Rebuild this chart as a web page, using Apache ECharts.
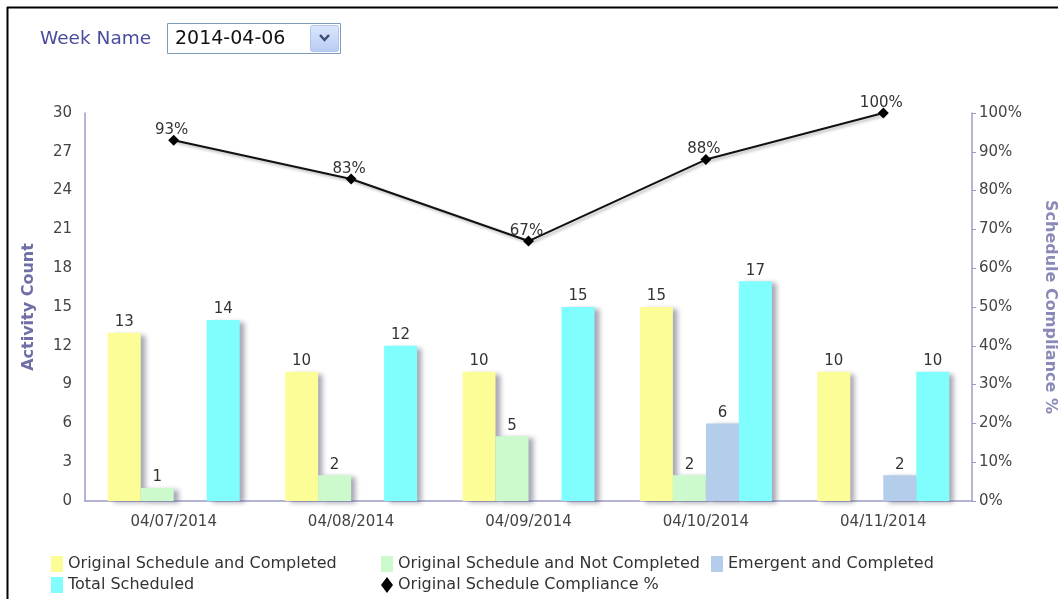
<!DOCTYPE html>
<html>
<head>
<meta charset="utf-8">
<script src="https://cdn.jsdelivr.net/npm/echarts@6/dist/echarts.min.js"></script>
<style>
html,body{margin:0;padding:0;background:#fff;}
#chart{width:1058px;height:599px;}
</style>
</head>
<body>
<div id="chart"></div>
<script>
const categories = ['04/07/2014','04/08/2014','04/09/2014','04/10/2014','04/11/2014'];
const origCompleted = [13, 10, 10, 15, 10];
const origNotCompleted = [1, 2, 5, 2, null];
const emergentCompleted = [null, null, null, 6, 2];
const totalScheduled = [14, 12, 15, 17, 10];
const compliancePct = [93, 83, 67, 88, 100];
const leftTicks = {min: 0, max: 30, interval: 3};
const rightTicks = {min: 0, max: 100, interval: 10};

const FONT = 'DejaVu Sans';
const chart = echarts.init(document.getElementById('chart'), null, {renderer: 'canvas'});

const barShadow = {shadowColor: 'rgba(60,60,90,0.45)', shadowBlur: 5, shadowOffsetX: 5, shadowOffsetY: 2};
const barLabel = {show: true, position: 'top', color: '#333', fontSize: 15, fontFamily: FONT, distance: 3};

function bar(name, data, color) {
  return {
    name: name, type: 'bar', data: data, yAxisIndex: 0,
    barWidth: 33, barGap: '0%',
    itemStyle: Object.assign({color: color}, barShadow),
    label: barLabel,
    emphasis: {disabled: true}
  };
}

const legendText = {color: '#333', fontSize: 16, fontFamily: FONT};
const legendBase = {top: 556, orient: 'vertical', padding: 0, itemGap: 5, itemWidth: 12, itemHeight: 16,
  textStyle: legendText, selectedMode: false, height: 60};

chart.setOption({
  animation: false,
  backgroundColor: '#fff',
  grid: {left: 85, right: 86, top: 113, bottom: 98, outerBoundsMode: 'none', containLabel: false},
  legend: [
    Object.assign({left: 51, data: [{name: 'Original Schedule and Completed', icon: 'rect'}, {name: 'Total Scheduled', icon: 'rect'}]}, legendBase),
    Object.assign({left: 381, data: [{name: 'Original Schedule and Not Completed', icon: 'rect'}, {name: 'Original Schedule Compliance %', icon: 'diamond'}]}, legendBase),
    Object.assign({left: 711, data: [{name: 'Emergent and Completed', icon: 'rect'}]}, legendBase)
  ],
  xAxis: {
    type: 'category', data: categories, boundaryGap: true,
    axisLine: {lineStyle: {color: '#9c9cc8', width: 1.5}},
    axisTick: {show: false},
    axisLabel: {color: '#444', fontSize: 15, fontFamily: FONT, margin: 14},
    splitLine: {show: false}
  },
  yAxis: [
    {
      type: 'value', position: 'left', min: leftTicks.min, max: leftTicks.max, interval: leftTicks.interval,
      name: 'Activity Count', nameLocation: 'middle', nameGap: 48, nameRotate: 90,
      nameTextStyle: {color: '#6f6fa6', fontSize: 16, fontWeight: 'bold', fontFamily: FONT},
      axisLine: {show: true, lineStyle: {color: '#9c9cc8', width: 1.5}},
      axisTick: {show: false},
      axisLabel: {color: '#444', fontSize: 15, fontFamily: FONT, margin: 13},
      splitLine: {show: false}
    },
    {
      type: 'value', position: 'right', min: rightTicks.min, max: rightTicks.max, interval: rightTicks.interval,
      name: 'Schedule Compliance %', nameLocation: 'middle', nameGap: 70, nameRotate: -90,
      nameTextStyle: {color: '#8a8ab8', fontSize: 16, fontWeight: 'bold', fontFamily: FONT},
      axisLine: {show: true, lineStyle: {color: '#9c9cc8', width: 1.5}},
      axisTick: {show: true, length: 4, lineStyle: {color: '#9c9cc8'}},
      axisLabel: {color: '#444', fontSize: 15, fontFamily: FONT, margin: 7, formatter: '{value}%'},
      splitLine: {show: false}
    }
  ],
  series: [
    bar('Original Schedule and Completed', origCompleted, '#fdfd98'),
    bar('Original Schedule and Not Completed', origNotCompleted, '#ccfacc'),
    bar('Emergent and Completed', emergentCompleted, '#b4cdea'),
    bar('Total Scheduled', totalScheduled, '#80fdfd'),
    {
      name: 'Original Schedule Compliance %', type: 'line', yAxisIndex: 1, data: compliancePct,
      symbol: 'diamond', symbolSize: 11, z: 5,
      lineStyle: {color: '#111', width: 2, shadowColor: 'rgba(0,0,0,0.3)', shadowBlur: 3, shadowOffsetX: 2, shadowOffsetY: 2},
      itemStyle: {color: '#000'},
      label: {show: true, position: 'top', color: '#333', fontSize: 15, fontFamily: FONT, distance: -3, offset: [-2, 0], formatter: '{c}%'},
      emphasis: {disabled: true}
    }
  ],
  graphic: [
    {type: 'line', shape: {x1: 7, y1: 7.5, x2: 1058, y2: 7.5}, style: {stroke: '#000', lineWidth: 2}},
    {type: 'line', shape: {x1: 7.5, y1: 7, x2: 7.5, y2: 599}, style: {stroke: '#000', lineWidth: 2}},
    {type: 'text', x: 40, y: 39, style: {text: 'Week Name', fill: '#4b4b9e', fontSize: 18.5, fontFamily: FONT, verticalAlign: 'middle'}},
    {type: 'rect', shape: {x: 167.5, y: 23.5, width: 173, height: 30}, style: {fill: '#fff', stroke: '#7f9db9', lineWidth: 1}},
    {type: 'text', x: 175, y: 39, style: {text: '2014-04-06', fill: '#111', fontSize: 19, fontFamily: FONT, verticalAlign: 'middle'}},
    {type: 'rect', shape: {x: 310.5, y: 25.5, width: 28, height: 26, r: 2},
     style: {fill: new echarts.graphic.LinearGradient(0, 0, 0, 1, [{offset: 0, color: '#dce7fb'}, {offset: 1, color: '#b7cbf3'}]), stroke: '#b3c6ee', lineWidth: 1}},
    {type: 'polyline', shape: {points: [[320, 35], [324.5, 40], [329, 35]]}, style: {stroke: '#3b4d78', lineWidth: 2.5, fill: null}}
  ]
});
</script>
</body>
</html>
